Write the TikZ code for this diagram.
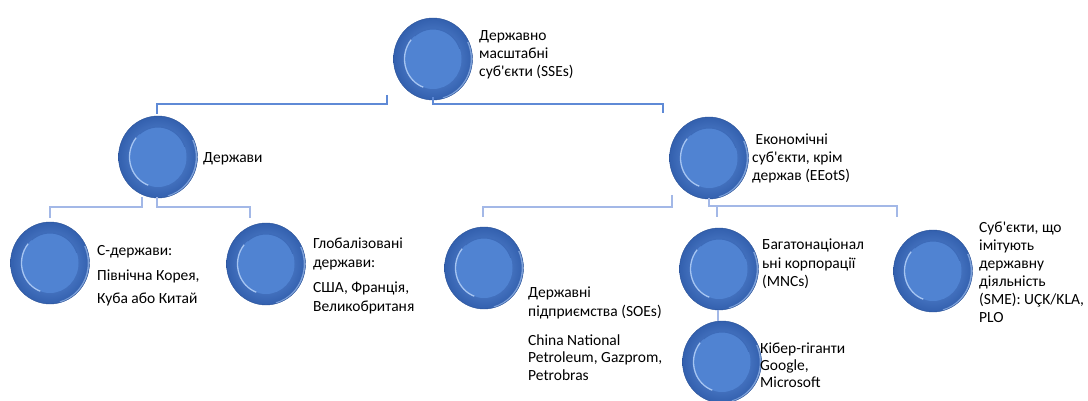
\documentclass[tikz,border=0pt]{standalone}
\usepackage{fontspec}
\newfontfamily\calfont{Carlito}
\usetikzlibrary{shapes.geometric}
\definecolor{lineA}{HTML}{5F8AD6}
\definecolor{lineB}{HTML}{A3B8E7}
\definecolor{ballIn}{HTML}{6797E2}
\definecolor{ballOut}{HTML}{3360AE}
\definecolor{ballEdge}{HTML}{2A5298}
\definecolor{discFill}{HTML}{5083D2}
\definecolor{rimLight}{HTML}{B7D3FA}
\definecolor{rimDark}{HTML}{3D6BB9}
\newcommand\txtlines[1]{\begin{tabular}[t]{@{}l@{}}#1\end{tabular}}
\tikzset{
  ball/.style={ellipse, minimum width=79pt, minimum height=82pt, inner sep=0pt,
    inner color=ballIn, outer color=ballOut, draw=ballEdge, line width=0.4pt,
    path picture={
      \coordinate (pc) at (path picture bounding box.center);
      \fill[discFill] (pc) ellipse [x radius=28.5pt, y radius=30pt];
      \draw[rimDark, line width=1pt] (pc) ++({28.5pt*cos(20)},{30pt*sin(20)})
        arc [start angle=20, end angle=130, x radius=28.5pt, y radius=30pt];
      \draw[rimLight, line width=1.3pt, opacity=.85] (pc) ++({28.5pt*cos(140)},{30pt*sin(140)})
        arc [start angle=140, end angle=250, x radius=28.5pt, y radius=30pt];
      \draw[rimLight, line width=1.6pt, opacity=.55] (pc) ++({38.5pt*cos(-75)},{40.5pt*sin(-75)})
        arc [start angle=-75, end angle=25, x radius=38.5pt, y radius=40.5pt];
    }},
  conA/.style={draw=lineA, line width=2.4pt},
  conB/.style={draw=lineB, line width=2.6pt},
  lbl/.style={anchor=base west, inner sep=0pt, text=black,
    font=\calfont\fontsize{15.5}{18}\selectfont},
}
\begin{document}
\begin{tikzpicture}[x=1pt,y=-1pt]
\useasboundingbox (0,0) rectangle (1088,401);

\node[ball] (A) at (433,59) {};
\node[ball] (B) at (158,157) {};
\node[ball] (C) at (709,158) {};
\node[ball] (D) at (50,263) {};
\node[ball] (E) at (266,264) {};
\node[ball] (F) at (484,268) {};
\node[ball] (G) at (719,269) {};
\node[ball] (I) at (722,362) {};
\node[ball] (H) at (933,271) {};

\draw[conA] ([shift={(-46,36)}]A.center) -- ++(0,9) -| ([shift={(-1,-2)}]B.north);
\draw[conA] ([shift={(0,38)}]A.center) -- ++(0,7) -| ([shift={(-46,-4)}]C.north);
\draw[conB] ([shift={(-16,40)}]B.center) -- ++(0,10) -| ([shift={(0,-4)}]D.north);
\draw[conB] ([shift={(-1,40)}]B.center) -- ++(0,10) -| ([shift={(-16,-5)}]E.north);
\draw[conB] ([shift={(-37,37)}]C.center) -- ++(0,12) -| ([shift={(-1,-10)}]F.north);
\draw[conB] ([shift={(0,40)}]C.center) -- ++(0,8) -| ([shift={(-36,-13)}]H.north);
\draw[conB] ([shift={(8,48)}]C.center) -- ([shift={(-2,-11)}]G.north);
\draw[conB] ([xshift=-1pt]G.south) -- ([xshift=-4pt]I.north);

\node[lbl] (tA) at (479,41) {\txtlines{Державно\\масштабні\\суб'єкти (SSEs)}};
\node[lbl] (tB) at (203,163) {Держави};
\node[lbl] (tC) at (752,145) {\txtlines{\ Економічні\\суб'єкти, крім\\держав (EEotS)}};
\node[lbl] (tD) at (97,255) {\txtlines{С-держави:\\[7pt]Північна Корея,\\[5pt]Куба або Китай}};
\node[lbl] (tE) at (313,248) {\txtlines{Глобалізовані\\[1pt]держави:\\[7pt]США, Франція,\\[1pt]Великобританя}};
\node[lbl] (tF) at (528,297) {\txtlines{Державні\\[1pt]підприємства (SOEs)\\[11pt]China National\\Petroleum, Gazprom,\\Petrobras}};
\node[lbl] (tG) at (762,250) {\txtlines{Багатонаціонал\\ьні корпорації\\(MNCs)}};
\node[lbl] (tI) at (760,353) {\txtlines{Кібер-гіганти\\[-1pt]Google,\\[-1pt]Microsoft}};
\node[lbl] (tH) at (979,233) {\txtlines{Суб'єкти, що\\імітують\\державну\\діяльність\\(SME): UÇK/KLA,\\PLO}};
\end{tikzpicture}
\end{document}
